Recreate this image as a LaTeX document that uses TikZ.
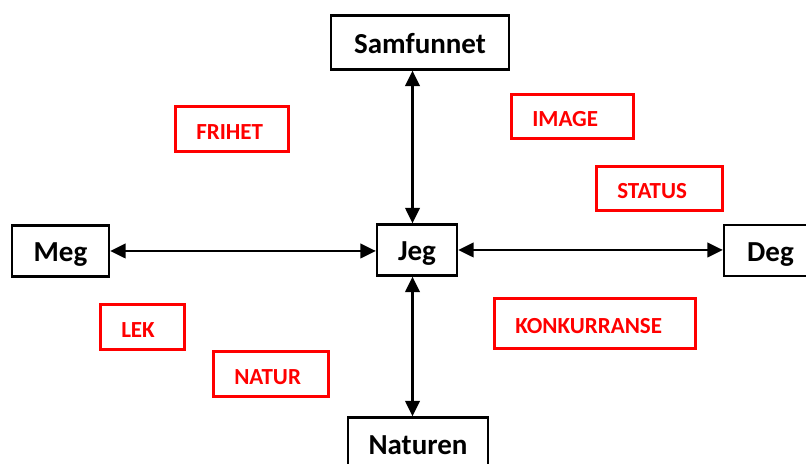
\documentclass[tikz,border=0pt]{standalone}
\usepackage{fontspec}
\setmainfont{Carlito}
\usetikzlibrary{arrows.meta}
\begin{document}
\begin{tikzpicture}[
		box/.style={draw=black, line width=1.3pt, font=\fontsize{16.5}{18}\selectfont\bfseries, minimum height=1.02cm, inner sep=0pt, text height=0.44cm, text depth=0pt},
		tag/.style={draw=red, line width=1.5pt, text=red, font=\fontsize{13.1}{15}\selectfont\bfseries, align=left, inner xsep=0.42cm, inner ysep=0pt, text height=0.42cm, text depth=0pt},
		>={Triangle[length=0.31cm, width=0.29cm]},
		arr/.style={<->, line width=1.3pt}]
		\useasboundingbox (0,0) rectangle (16.12,9.28);
		\node[box, minimum width=3.56cm, minimum height=1.08cm] (samf) at (8.40,8.43) {Samfunnet};
		\node[box, minimum width=1.94cm] (meg) at (1.21,4.26) {Meg};
		\node[box, minimum width=1.60cm] (jeg) at (8.34,4.28) {Jeg};
		\node[box, minimum width=1.86cm] (deg) at (15.41,4.27) {Deg};
		\node[box, minimum width=2.80cm, minimum height=1.06cm] (natur) at (8.36,0.40) {Naturen};
		\node[tag, text width=1.43cm, minimum height=0.91cm] (frihet) at (4.64,6.70) {FRIHET};
		\node[tag, text width=1.61cm, minimum height=0.89cm] (image) at (11.45,6.95) {IMAGE};
		\node[tag, text width=1.69cm, minimum height=0.87cm] (status) at (13.19,5.51) {STATUS};
		\node[tag, text width=0.85cm, minimum height=0.89cm] (lek) at (2.85,2.74) {LEK};
		\node[tag, text width=1.47cm, minimum height=0.91cm] (naturtag) at (5.42,1.80) {NATUR};
		\node[tag, text width=3.19cm, minimum height=1.01cm] (konk) at (11.90,2.81) {KONKURRANSE};
		\draw[arr] ([xshift=-0.09cm]jeg.north) -- ([xshift=-0.09cm]jeg.north |- samf.south);
		\draw[arr] ([xshift=-0.09cm]jeg.south) -- ([xshift=-0.09cm]jeg.south |- natur.north);
		\draw[arr] (meg.east) -- (meg.east -| jeg.west);
		\draw[arr] (jeg.east) -- (jeg.east -| deg.west);
\end{tikzpicture}
\end{document}
